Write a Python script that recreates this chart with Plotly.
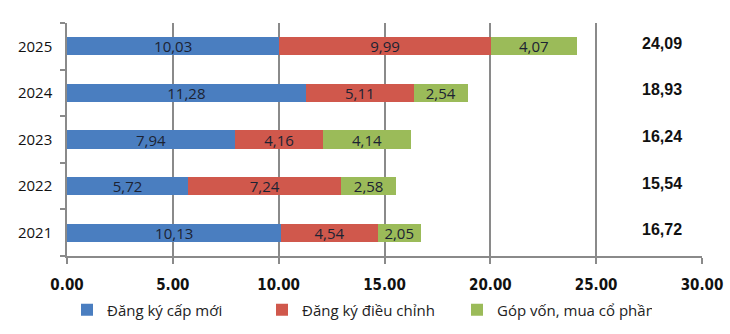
import plotly.graph_objects as go

years = ["2021", "2022", "2023", "2024", "2025"]
new_reg = [10.13, 5.72, 7.94, 11.28, 10.03]
adjust_reg = [4.54, 7.24, 4.16, 5.11, 9.99]
capital = [2.05, 2.58, 4.14, 2.54, 4.07]
totals = [16.72, 15.54, 16.24, 18.93, 24.09]
series_names = ["Đăng ký cấp mới", "Đăng ký điều chỉnh", "Góp vốn, mua cổ phần"]
tick_vals = [0, 5, 10, 15, 20, 25, 30]
tick_text = ["0.00", "5.00", "10.00", "15.00", "20.00", "25.00", "30.00"]

colors = ["#4a7ec0", "#d0584c", "#9bbb59"]

def fmt(v):
    return f"{v:.2f}".replace(".", ",")

fig = go.Figure()
for name, vals, col in zip(series_names, [new_reg, adjust_reg, capital], colors):
    fig.add_trace(go.Bar(
        y=years, x=vals, name=name, orientation="h",
        marker=dict(color=col, line=dict(width=0)),
        text=[fmt(v) for v in vals], textposition="inside",
        insidetextanchor="middle", textangle=0, constraintext="none",
        textfont=dict(family="Open Sans", size=15, color="#1c2333"),
        cliponaxis=False,
    ))

for i, t in enumerate(totals):
    fig.add_annotation(x=28.1, y=i, text=fmt(t), showarrow=False, yshift=3,
                       font=dict(family="Liberation Sans, Arial", size=16, color="#111111", weight="bold"))

fig.update_layout(
    barmode="stack", bargap=0.61,
    width=730, height=334,
    margin=dict(l=67, r=28, t=23, b=78, autoexpand=False),
    plot_bgcolor="white", paper_bgcolor="white",
    legend=dict(orientation="h", x=0.0, xanchor="left",
                yref="container", y=0.072, yanchor="middle",
                font=dict(family="Open Sans", size=15, color="#222222"),
                entrywidth=150, entrywidthmode="pixels",
                traceorder="normal", itemclick=False),
    xaxis=dict(range=[0, 30], tickvals=tick_vals, ticktext=tick_text,
               showgrid=True, gridcolor="#8a8a8a", gridwidth=1.5,
               showline=True, linecolor="#8a8a8a", linewidth=1.5,
               ticks="outside", ticklen=6, tickcolor="#8a8a8a", tickwidth=1.5,
               zeroline=False, ticklabelstandoff=8, automargin=False,
               tickfont=dict(family="DejaVu Sans Condensed, Liberation Sans Narrow", size=15,
                             color="#111111", weight="bold")),
    yaxis=dict(type="category", categoryorder="array", categoryarray=years,
               range=[-0.5, 4.5], autorange=False, automargin=False,
               showline=True, linecolor="#8a8a8a", linewidth=1.5,
               ticks="outside", tickson="boundaries", ticklen=5, tickcolor="#8a8a8a", tickwidth=1.5,
               showgrid=False, ticklabelstandoff=10,
               tickfont=dict(family="Open Sans", size=15, color="#111111")),
)

fig.write_html("out.html")
